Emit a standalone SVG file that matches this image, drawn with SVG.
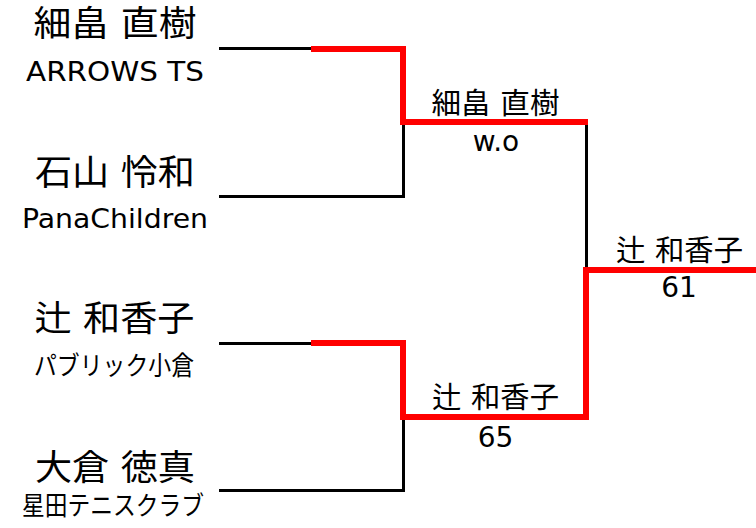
<svg xmlns="http://www.w3.org/2000/svg" width="756" height="528" viewBox="0 0 756 528">
<style>
.bg{fill:#ffffff}
.name{font-family:"Noto Sans CJK JP","DejaVu Sans",sans-serif;font-size:35px;fill:#000;text-anchor:middle;word-spacing:3px}
.team{font-family:"DejaVu Sans","Noto Sans CJK JP",sans-serif;font-size:26.5px;fill:#000;text-anchor:middle}
.teamjp{font-family:"Noto Sans CJK JP",sans-serif;font-size:26px;fill:#000;text-anchor:middle}
.win{font-family:"Noto Sans CJK JP","DejaVu Sans",sans-serif;font-size:29px;fill:#000;text-anchor:middle;word-spacing:3px}
.score{font-family:"DejaVu Sans",sans-serif;font-size:28px;fill:#000;text-anchor:middle}
.lose{fill:none;stroke:#000;stroke-width:3;stroke-linejoin:miter}
.won{fill:none;stroke:#ff0000;stroke-width:6;stroke-linejoin:miter}
</style>
<rect class="bg" x="0" y="0" width="756" height="528"/>
<g id="connectors">
  <path class="lose" d="M219,48.5 H312"/>
  <path class="lose" d="M219,196.5 H403.5 V122"/>
  <path class="lose" d="M586.5,122 V270"/>
  <path class="lose" d="M219,343.5 H312"/>
  <path class="lose" d="M219,490.5 H403.5 V417"/>
  <path class="won" d="M311,49 H403 V122 H588"/>
  <path class="won" d="M311,343 H403 V417 H589"/>
  <path class="won" d="M586,420 V270 H756"/>
</g>
<g id="player1">
  <text class="name" x="115" y="35.5" textLength="163" lengthAdjust="spacingAndGlyphs">細畠 直樹</text>
  <text class="team" x="115" y="80.5" textLength="178" lengthAdjust="spacingAndGlyphs">ARROWS TS</text>
</g>
<g id="player2">
  <text class="name" x="115" y="185" textLength="160" lengthAdjust="spacingAndGlyphs">石山 怜和</text>
  <text class="team" x="115" y="227.5" textLength="186" lengthAdjust="spacingAndGlyphs">PanaChildren</text>
</g>
<g id="player3">
  <text class="name" x="114.5" y="331" textLength="160" lengthAdjust="spacingAndGlyphs">辻 和香子</text>
  <text class="teamjp" x="114" y="375" textLength="160" lengthAdjust="spacingAndGlyphs">パブリック小倉</text>
</g>
<g id="player4">
  <text class="name" x="115" y="480" textLength="160" lengthAdjust="spacingAndGlyphs">大倉 徳真</text>
  <text class="teamjp" x="113" y="515" textLength="182" lengthAdjust="spacingAndGlyphs">星田テニスクラブ</text>
</g>
<g id="semi1">
  <text class="win" x="495.5" y="114" textLength="128" lengthAdjust="spacingAndGlyphs">細畠 直樹</text>
  <text class="score" x="496" y="150.5">w.o</text>
</g>
<g id="semi2">
  <text class="win" x="495.5" y="408" textLength="127" lengthAdjust="spacingAndGlyphs">辻 和香子</text>
  <text class="score" x="495.5" y="446.5">65</text>
</g>
<g id="final">
  <text class="win" x="679.5" y="261" textLength="127" lengthAdjust="spacingAndGlyphs">辻 和香子</text>
  <text class="score" x="679" y="297">61</text>
</g>
</svg>
